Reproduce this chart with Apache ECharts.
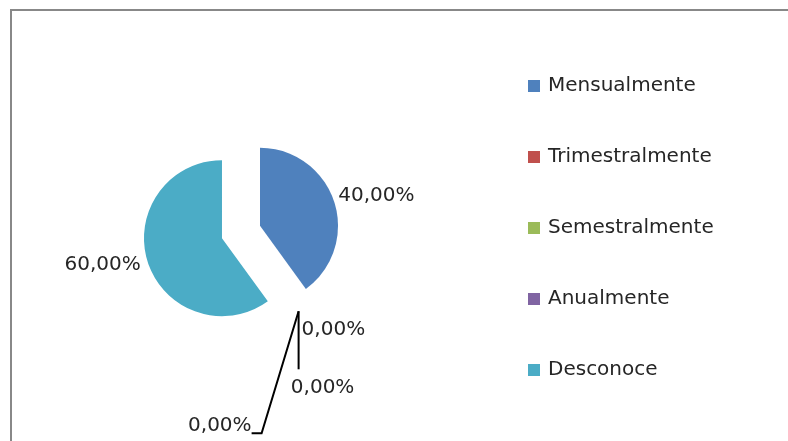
<!DOCTYPE html>
<html>
<head>
<meta charset="utf-8">
<script src="https://cdn.jsdelivr.net/npm/echarts@6/dist/echarts.min.js"></script>
<style>
html,body{margin:0;padding:0;background:#fff;}
#chart{width:788px;height:441px;}
</style>
</head>
<body>
<div id="chart"></div>
<script>
const categories = ['Mensualmente', 'Trimestralmente', 'Semestralmente', 'Anualmente', 'Desconoce'];
const values = [40, 0, 0, 0, 60];
const colors = ['#4F81BD', '#C0504D', '#9BBB59', '#8064A2', '#4BACC6'];

const FONT = 'DejaVu Sans';
const TEXT = '#262626';

const chart = echarts.init(document.getElementById('chart'), null, {renderer: 'canvas'});

const data = categories.map((name, i) => {
  const item = {
    name: name,
    value: values[i],
    selected: true,
    itemStyle: {color: colors[i]},
    select: {itemStyle: {color: colors[i], borderWidth: 0}}
  };
  if (values[i] > 0) {
    item.labelLine = {show: false};
  }
  return item;
});

function fmt(p) {
  return p.percent.toFixed(2).replace('.', ',') + '%';
}

// label placement relative to the slice's label anchor: [dx, dy, side]
// side: 'l' = label's left edge at anchor+dx, 'r' = right edge, 'c' = centre
const labelPlace = [
  [4, -6, 'l'],
  [3, 19, 'l'],
  [24, 77, 'c'],
  [-47, 115, 'r'],
  [-7, 3, 'r']
];

chart.setOption({
  animation: false,
  backgroundColor: '#ffffff',
  graphic: [{
    type: 'rect',
    x: 0, y: 0,
    shape: {x: 11, y: 10, width: 820, height: 500},
    style: {fill: 'none', stroke: '#888888', lineWidth: 2},
    silent: true
  }],
  legend: {
    orient: 'vertical',
    left: 528,
    top: 75,
    padding: 0,
    itemWidth: 12,
    itemHeight: 12,
    itemGap: 49,
    icon: 'rect',
    selectedMode: false,
    textStyle: {fontFamily: FONT, fontSize: 20, color: TEXT, lineHeight: 22, padding: [0, 0, 0, 3]},
    data: categories
  },
  series: [{
    type: 'pie',
    center: [241, 232],
    radius: 78,
    startAngle: 90,
    clockwise: true,
    selectedMode: 'multiple',
    selectedOffset: 20,
    avoidLabelOverlap: false,
    itemStyle: {borderWidth: 0},
    label: {
      show: true,
      position: 'outside',
      formatter: fmt,
      fontFamily: FONT,
      fontSize: 20,
      color: TEXT
    },
    labelLine: {
      show: true,
      length: 0,
      length2: 0,
      smooth: false,
      lineStyle: {color: '#000000', width: 2}
    },
    labelLayout: function (params) {
      const i = params.dataIndex;
      const pts = params.labelLinePoints;
      const r = params.labelRect;
      if (!pts || !r) return {};
      const ax = pts[0][0], ay = pts[0][1];
      const pl = labelPlace[i];
      let cur;
      if (pl[2] === 'l') cur = r.x;
      else if (pl[2] === 'r') cur = r.x + r.width;
      else cur = r.x + r.width / 2;
      const out = {
        dx: ax + pl[0] - cur,
        dy: ay + pl[1] - (r.y + r.height / 2)
      };
      if (i === 1) out.labelLinePoints = [[ax, ay], [ax, ay], [ax, ay]];
      if (i === 2) out.labelLinePoints = [[ax, ay], [ax, ay + 58], [ax, ay + 58]];
      if (i === 3) out.labelLinePoints = [[ax, ay], [ax - 37, ay + 122], [ax - 47, ay + 122]];
      return out;
    },
    emphasis: {disabled: true},
    data: data
  }]
});
</script>
</body>
</html>
